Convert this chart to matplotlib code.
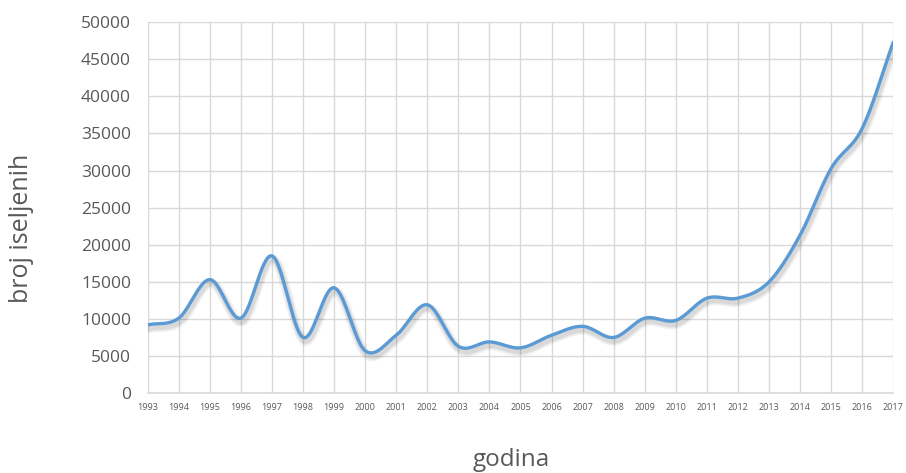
import numpy as np
import matplotlib.pyplot as plt
import matplotlib.patheffects as pe

years = list(range(1993, 2018))
emigrants = [9200, 10100, 15300, 10100, 18500, 7500, 14200, 5700, 7800, 11900,
             6300, 6900, 6100, 7800, 9000, 7500, 10100, 9800, 12800, 12800,
             15000, 21300, 30300, 35700, 47300]


def smooth(x, y, n=20):
    # Catmull-Rom style curve, like Excel's smoothed line
    x = np.asarray(x, float)
    y = np.asarray(y, float)
    px = np.concatenate([[2 * x[0] - x[1]], x, [2 * x[-1] - x[-2]]])
    py = np.concatenate([[2 * y[0] - y[1]], y, [2 * y[-1] - y[-2]]])
    xs, ys = [], []
    t = np.linspace(0, 1, n, endpoint=False)
    for i in range(1, len(px) - 2):
        for p, out in ((px, xs), (py, ys)):
            p0, p1, p2, p3 = p[i - 1], p[i], p[i + 1], p[i + 2]
            out.extend(0.5 * ((2 * p1) + (-p0 + p2) * t
                              + (2 * p0 - 5 * p1 + 4 * p2 - p3) * t ** 2
                              + (-p0 + 3 * p1 - 3 * p2 + p3) * t ** 3))
    xs.append(x[-1])
    ys.append(y[-1])
    return np.array(xs), np.array(ys)


plt.rcParams['font.family'] = ['Open Sans', 'DejaVu Sans']

fig = plt.figure(figsize=(9.06, 4.73), dpi=100)
ax = fig.add_axes([0.163, 0.169, 0.823, 0.784])

# soft shadow, several faint layers
shadow = [pe.SimpleLineShadow(offset=(1, -2.5), shadow_color='#000000',
                              alpha=0.05, linewidth=w) for w in (7, 5, 3.5)]
sx, sy = smooth(years, emigrants)
ax.plot(sx, sy, color='#5B9BD5', lw=2.4, solid_capstyle='round', zorder=3,
        path_effects=shadow + [pe.Normal()])

ax.set_xlim(1993, 2017)
ax.set_ylim(0, 50000)
ax.set_xticks(years)
ax.set_xticklabels([str(y) for y in years], fontsize=6.5, color='#595959')
ax.set_yticks(range(0, 50001, 5000))
ax.set_yticklabels([str(v) for v in range(0, 50001, 5000)], fontsize=12.5, color='#595959')
ax.tick_params(length=0)
ax.tick_params(axis='y', pad=12)
ax.tick_params(axis='x', pad=7)

ax.grid(True, color='#D9D9D9', lw=1)
ax.set_axisbelow(True)
for s in ('top', 'right', 'left'):
    ax.spines[s].set_visible(False)
ax.spines['bottom'].set_color('#D9D9D9')
ax.spines['bottom'].set_linewidth(1.2)

ax.set_ylabel('broj iseljenih', fontsize=18, color='#595959')
ax.yaxis.set_label_coords(-0.153, 0.445)
ax.set_xlabel('godina', fontsize=17.5, color='#595959')
ax.xaxis.set_label_coords(0.487, -0.148)

fig.savefig('out.png', dpi=100, facecolor='white')
